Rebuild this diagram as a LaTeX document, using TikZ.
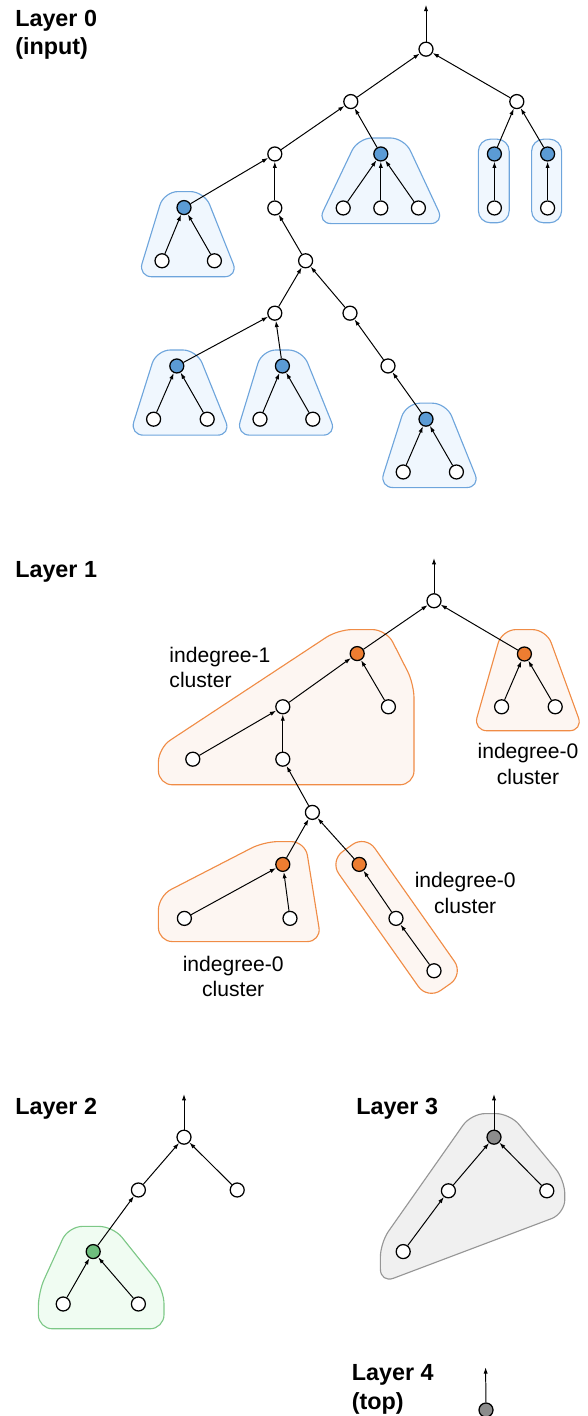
\documentclass[tikz,border=0pt]{standalone}
\usepackage{fontspec}
\setmainfont{Liberation Sans}
\usetikzlibrary{arrows.meta}

\definecolor{bluenode}{RGB}{91,155,213}
\definecolor{blueline}{RGB}{110,165,220}
\definecolor{bluefill}{RGB}{240,247,254}
\definecolor{orangenode}{RGB}{237,125,49}
\definecolor{orangeline}{RGB}{240,140,70}
\definecolor{orangefill}{RGB}{253,246,242}
\definecolor{greennode}{RGB}{110,190,125}
\definecolor{greenline}{RGB}{125,200,135}
\definecolor{greenfill}{RGB}{240,252,242}
\definecolor{graynode}{RGB}{140,140,140}
\definecolor{grayline}{RGB}{150,150,150}
\definecolor{grayfill}{RGB}{240,240,240}

\tikzset{
	vertex/.style={circle, draw, line width=0.9pt, fill=white, minimum size=0.35cm, inner sep=0pt},
	edge/.style={line width=0.7pt, -{Latex[length=4.5pt, width=3pt]}},
	clus/.style={line width=0.8pt, rounded corners=0.35cm},
	layertitle/.style={anchor=west, align=left, inner sep=0pt, font=\fontsize{16.6}{20.6}\selectfont\bfseries},
	note/.style={align=center, inner sep=0pt, font=\fontsize{15}{18.3}\selectfont}
}

\begin{document}
\begin{tikzpicture}
	\useasboundingbox (0, 0) rectangle (14.7, 35.4);

	% clusters
	\draw[clus, draw=blueline, fill=bluefill] (4.10, 30.61) -- (5.11, 30.61) -- (5.96, 28.48) -- (3.45, 28.48) -- cycle;
	\draw[clus, draw=blueline, fill=bluefill] (8.95, 31.95) -- (10.11, 31.95) -- (11.11, 29.81) -- (7.93, 29.81) -- cycle;
	\draw[clus, draw=blueline, fill=bluefill, rounded corners=0.3cm] (11.96, 31.92) rectangle (12.73, 29.83);
	\draw[clus, draw=blueline, fill=bluefill, rounded corners=0.3cm] (13.29, 31.92) rectangle (14.04, 29.83);
	\draw[clus, draw=blueline, fill=bluefill] (3.91, 26.65) -- (4.92, 26.65) -- (5.78, 24.52) -- (3.24, 24.52) -- cycle;
	\draw[clus, draw=blueline, fill=bluefill] (6.55, 26.65) -- (7.56, 26.65) -- (8.42, 24.52) -- (5.90, 24.52) -- cycle;
	\draw[clus, draw=blueline, fill=bluefill] (10.15, 25.32) -- (11.16, 25.32) -- (12.01, 23.21) -- (9.48, 23.21) -- cycle;

	\draw[clus, draw=orangeline, fill=orangefill] (8.45, 19.66) -- (9.66, 19.66) -- (10.35, 18.30) -- (10.35, 15.78) -- (3.96, 15.78) -- (3.96, 16.70) -- cycle;
	\draw[clus, draw=orangeline, fill=orangefill] (12.55, 19.66) -- (13.66, 19.66) -- (14.58, 17.13) -- (11.83, 17.13) -- cycle;
	\draw[clus, draw=orangeline, fill=orangefill] (6.60, 14.36) -- (7.63, 14.36) -- (8.03, 11.86) -- (3.96, 11.86) -- (3.96, 13.00) -- cycle;
	\draw[clus, draw=orangeline, fill=orangefill, rounded corners=0.4cm] (9.14, 14.52) -- (11.59, 11.04) -- (10.69, 10.41) -- (8.24, 13.88) -- cycle;

	\draw[clus, draw=greenline, fill=greenfill] (1.71, 4.74) -- (2.83, 4.74) -- (4.10, 3.15) -- (4.10, 2.18) -- (0.96, 2.18) -- (0.96, 3.10) -- cycle;
	\draw[clus, draw=grayline, fill=grayfill] (11.78, 7.56) -- (12.75, 7.56) -- (14.12, 5.90) -- (14.12, 5.06) -- (9.51, 3.32) -- (9.51, 4.33) -- cycle;

	% layer 0
	\coordinate (t0) at (10.65, 35.28);
	\node[vertex] (r0) at (10.65, 34.17) {};
	\node[vertex] (a0) at (8.77, 32.86) {};
	\node[vertex] (b0) at (12.92, 32.86) {};
	\node[vertex] (c0) at (6.87, 31.55) {};
	\node[vertex, fill=bluenode] (d0) at (9.52, 31.55) {};
	\node[vertex, fill=bluenode] (e0) at (12.36, 31.55) {};
	\node[vertex, fill=bluenode] (f0) at (13.69, 31.55) {};
	\node[vertex, fill=bluenode] (g0) at (4.60, 30.21) {};
	\node[vertex] (h0) at (6.87, 30.20) {};
	\node[vertex] (d1) at (8.58, 30.20) {};
	\node[vertex] (d2) at (9.52, 30.20) {};
	\node[vertex] (d3) at (10.46, 30.20) {};
	\node[vertex] (e1) at (12.36, 30.20) {};
	\node[vertex] (f1) at (13.69, 30.20) {};
	\node[vertex] (g1) at (4.05, 28.88) {};
	\node[vertex] (g2) at (5.36, 28.88) {};
	\node[vertex] (i0) at (7.64, 28.88) {};
	\node[vertex] (j0) at (6.87, 27.57) {};
	\node[vertex] (k0) at (8.75, 27.57) {};
	\node[vertex, fill=bluenode] (l0) at (4.42, 26.25) {};
	\node[vertex, fill=bluenode] (m0) at (7.06, 26.25) {};
	\node[vertex] (n0) at (9.70, 26.25) {};
	\node[vertex, fill=bluenode] (o0) at (10.65, 24.92) {};
	\node[vertex] (l1) at (3.84, 24.92) {};
	\node[vertex] (l2) at (5.18, 24.92) {};
	\node[vertex] (m1) at (6.50, 24.92) {};
	\node[vertex] (m2) at (7.82, 24.92) {};
	\node[vertex] (o1) at (10.08, 23.60) {};
	\node[vertex] (o2) at (11.41, 23.60) {};

	\draw[edge] (r0) -- (t0);
	\draw[edge] (a0) -- (r0);
	\draw[edge] (b0) -- (r0);
	\draw[edge] (c0) -- (a0);
	\draw[edge] (d0) -- (a0);
	\draw[edge] (e0) -- (b0);
	\draw[edge] (f0) -- (b0);
	\draw[edge] (g0) -- (c0);
	\draw[edge] (h0) -- (c0);
	\draw[edge] (d1) -- (d0);
	\draw[edge] (d2) -- (d0);
	\draw[edge] (d3) -- (d0);
	\draw[edge] (e1) -- (e0);
	\draw[edge] (f1) -- (f0);
	\draw[edge] (g1) -- (g0);
	\draw[edge] (g2) -- (g0);
	\draw[edge] (i0) -- (h0);
	\draw[edge] (j0) -- (i0);
	\draw[edge] (k0) -- (i0);
	\draw[edge] (l0) -- (j0);
	\draw[edge] (m0) -- (j0);
	\draw[edge] (n0) -- (k0);
	\draw[edge] (o0) -- (n0);
	\draw[edge] (l1) -- (l0);
	\draw[edge] (l2) -- (l0);
	\draw[edge] (m1) -- (m0);
	\draw[edge] (m2) -- (m0);
	\draw[edge] (o1) -- (o0);
	\draw[edge] (o2) -- (o0);

	% layer 1
	\coordinate (t1) at (10.85, 21.45);
	\node[vertex] (r1) at (10.85, 20.38) {};
	\node[vertex, fill=orangenode] (p1) at (8.93, 19.06) {};
	\node[vertex, fill=orangenode] (q1) at (13.11, 19.05) {};
	\node[vertex] (q2) at (12.54, 17.73) {};
	\node[vertex] (q3) at (13.88, 17.73) {};
	\node[vertex] (s1) at (7.07, 17.73) {};
	\node[vertex] (p2) at (9.71, 17.73) {};
	\node[vertex] (s2) at (4.82, 16.42) {};
	\node[vertex] (s3) at (7.07, 16.42) {};
	\node[vertex] (v1) at (7.81, 15.09) {};
	\node[vertex, fill=orangenode] (w1) at (7.07, 13.79) {};
	\node[vertex, fill=orangenode] (u1) at (8.98, 13.79) {};
	\node[vertex] (w2) at (4.61, 12.44) {};
	\node[vertex] (w3) at (7.25, 12.44) {};
	\node[vertex] (u2) at (9.90, 12.44) {};
	\node[vertex] (u3) at (10.85, 11.13) {};

	\draw[edge] (r1) -- (t1);
	\draw[edge] (p1) -- (r1);
	\draw[edge] (q1) -- (r1);
	\draw[edge] (q2) -- (q1);
	\draw[edge] (q3) -- (q1);
	\draw[edge] (s1) -- (p1);
	\draw[edge] (p2) -- (p1);
	\draw[edge] (s2) -- (s1);
	\draw[edge] (s3) -- (s1);
	\draw[edge] (v1) -- (s3);
	\draw[edge] (w1) -- (v1);
	\draw[edge] (u1) -- (v1);
	\draw[edge] (w2) -- (w1);
	\draw[edge] (w3) -- (w1);
	\draw[edge] (u2) -- (u1);
	\draw[edge] (u3) -- (u2);

	% layer 2
	\coordinate (t2) at (4.60, 8.05);
	\node[vertex] (r2) at (4.60, 6.97) {};
	\node[vertex] (a2) at (3.46, 5.65) {};
	\node[vertex] (b2) at (5.93, 5.65) {};
	\node[vertex, fill=greennode] (g3) at (2.33, 4.11) {};
	\node[vertex] (g4) at (1.58, 2.80) {};
	\node[vertex] (g5) at (3.46, 2.80) {};

	\draw[edge] (r2) -- (t2);
	\draw[edge] (a2) -- (r2);
	\draw[edge] (b2) -- (r2);
	\draw[edge] (g3) -- (a2);
	\draw[edge] (g4) -- (g3);
	\draw[edge] (g5) -- (g3);

	% layer 3
	\coordinate (t3) at (12.35, 8.05);
	\node[vertex, fill=graynode] (r3) at (12.35, 6.97) {};
	\node[vertex] (a3) at (11.21, 5.63) {};
	\node[vertex] (b3) at (13.67, 5.63) {};
	\node[vertex] (c3) at (10.08, 4.11) {};

	\draw[edge] (r3) -- (t3);
	\draw[edge] (a3) -- (r3);
	\draw[edge] (b3) -- (r3);
	\draw[edge] (c3) -- (a3);

	% layer 4
	\coordinate (t4) at (12.14, 1.22);
	\node[vertex, fill=graynode] (r4) at (12.15, 0.15) {};
	\draw[edge] (r4) -- (t4);

	% labels
	\node[layertitle] (lab0) at (0.375, 34.53) {Layer 0\\(input)};
	\node[layertitle] (lab1) at (0.375, 21.09) {Layer 1};
	\node[layertitle] (lab2) at (0.375, 7.69) {Layer 2};
	\node[layertitle] (lab3) at (8.90, 7.69) {Layer 3};
	\node[layertitle] (lab4) at (8.79, 0.66) {Layer 4\\(top)};

	\node[note, anchor=west, align=left] (cl1) at (4.23, 18.71) {indegree-1\\cluster};
	\node[note] (cl2) at (13.20, 16.30) {indegree-0\\cluster};
	\node[note] (cl3) at (11.63, 13.08) {indegree-0\\cluster};
	\node[note] (cl4) at (5.83, 10.99) {indegree-0\\cluster};
\end{tikzpicture}
\end{document}
